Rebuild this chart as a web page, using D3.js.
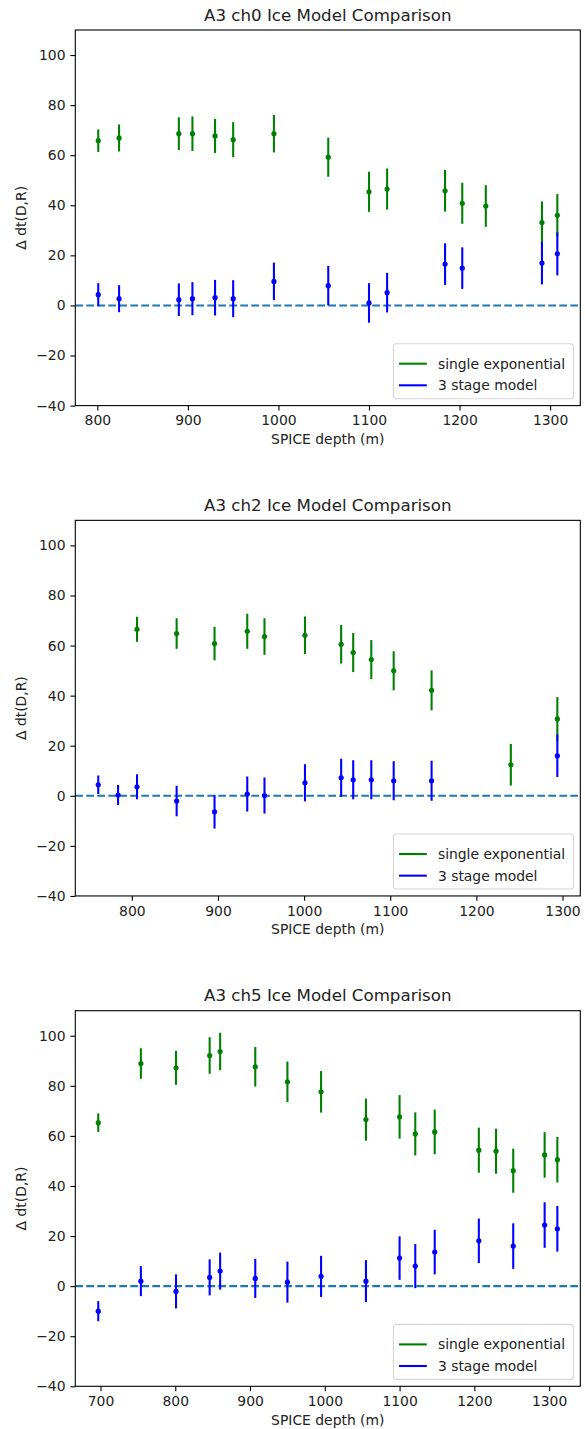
<!DOCTYPE html>
<html>
<head>
<meta charset="utf-8">
<script src="https://cdn.jsdelivr.net/npm/d3@7"></script>
<style>
  body { margin: 0; background: #fff; }
  svg { display: block; font-family: "DejaVu Sans", sans-serif; }
</style>
</head>
<body>
<div id="chart"></div>
<script>
// ---- data ----
var panelTitles = ['A3 ch0 Ice Model Comparison', 'A3 ch2 Ice Model Comparison', 'A3 ch5 Ice Model Comparison'];
var seriesNames = ['single exponential', '3 stage model'];
var yTicks = [-40, -20, 0, 20, 40, 60, 80, 100];

// ch0
var ch0ExpDepth = [801, 824, 890, 905, 930, 950, 995, 1055, 1100, 1120, 1184, 1203, 1229, 1291, 1308];
var ch0ExpVal = [65.8, 66.9, 68.6, 68.6, 67.7, 66.2, 68.6, 59.2, 45.4, 46.5, 45.8, 40.8, 39.7, 33.1, 36.0];
var ch0ExpErr = [4.5, 5.4, 6.5, 6.9, 6.8, 7.0, 7.5, 7.8, 8.0, 8.2, 8.3, 8.2, 8.3, 8.4, 8.5];
var ch0StgDepth = [801, 824, 890, 905, 930, 950, 995, 1055, 1100, 1120, 1184, 1203, 1291, 1308];
var ch0StgVal = [4.3, 2.7, 2.3, 2.7, 3.1, 2.7, 9.6, 7.9, 1.0, 5.1, 16.5, 14.9, 16.9, 20.6];
var ch0StgErr = [4.6, 5.4, 6.5, 6.6, 7.1, 7.4, 7.5, 7.9, 7.9, 7.9, 8.3, 8.3, 8.5, 8.6];

// ch2
var ch2ExpDepth = [806, 852, 896, 934, 954, 1001, 1043, 1057, 1078, 1104, 1148, 1240, 1294];
var ch2ExpVal = [66.5, 64.8, 60.8, 65.7, 63.6, 64.1, 60.5, 57.2, 54.4, 49.9, 42.1, 12.4, 30.7];
var ch2ExpErr = [5.0, 6.1, 6.7, 7.0, 7.3, 7.5, 7.7, 7.8, 7.8, 7.8, 8.0, 8.3, 8.7];
var ch2StgDepth = [761, 784, 806, 852, 896, 934, 954, 1001, 1043, 1057, 1078, 1104, 1148, 1294];
var ch2StgVal = [4.4, 0.3, 3.6, -2.1, -6.4, 0.7, 0.1, 5.2, 7.2, 6.4, 6.4, 6.0, 6.0, 16.0];
var ch2StgErr = [3.7, 4.0, 5.0, 6.1, 6.7, 7.0, 7.2, 7.4, 7.6, 7.8, 7.8, 7.8, 8.0, 8.5];

// ch5
var ch5ExpDepth = [697, 754, 801, 846, 860, 907, 950, 995, 1055, 1100, 1121, 1147, 1206, 1229, 1252, 1294, 1311];
var ch5ExpVal = [65.3, 88.9, 87.2, 92.1, 93.7, 87.6, 81.6, 77.6, 66.5, 67.6, 60.8, 61.6, 54.3, 53.9, 46.1, 52.4, 50.5];
var ch5ExpErr = [3.7, 6.1, 6.8, 7.3, 7.5, 7.9, 8.1, 8.3, 8.4, 8.7, 8.6, 8.9, 9.0, 9.0, 8.8, 9.1, 9.1];
var ch5StgDepth = [697, 754, 801, 846, 860, 907, 950, 995, 1055, 1100, 1121, 1147, 1206, 1252, 1294, 1311];
var ch5StgVal = [-10.0, 2.0, -2.1, 3.5, 6.0, 3.1, 1.6, 3.9, 2.0, 11.2, 8.0, 13.6, 18.1, 16.0, 24.4, 22.9];
var ch5StgErr = [4.0, 6.0, 6.8, 7.2, 7.4, 7.8, 8.2, 8.2, 8.4, 8.7, 8.8, 8.9, 8.9, 9.1, 9.1, 9.1];

var panels = [
  { exp: [ch0ExpDepth, ch0ExpVal, ch0ExpErr], stg: [ch0StgDepth, ch0StgVal, ch0StgErr] },
  { exp: [ch2ExpDepth, ch2ExpVal, ch2ExpErr], stg: [ch2StgDepth, ch2StgVal, ch2StgErr] },
  { exp: [ch5ExpDepth, ch5ExpVal, ch5ExpErr], stg: [ch5StgDepth, ch5StgVal, ch5StgErr] }
];

// ---- layout ----
var W = 585, H = 1429;
var left = 75.3, right = 580.3;
var firstTop = 30, step = 490.35, plotH = 375.6;
var fs = 13.9; // 10pt at 100 dpi
var colors = ['green', 'blue'];

var svg = d3.select('#chart').append('svg').attr('width', W).attr('height', H);

function zip(arr) {
  return arr[0].map(function(d, i) { return { x: d, y: arr[1][i], e: arr[2][i] }; });
}

panels.forEach(function(p, idx) {
  var top = firstTop + idx * step;
  var bottom = top + plotH;

  var allX = p.exp[0].concat(p.stg[0]);
  var xmin = d3.min(allX), xmax = d3.max(allX), pad = (xmax - xmin) * 0.05;
  var x = d3.scaleLinear().domain([xmin - pad, xmax + pad]).range([left, right]);
  var y = d3.scaleLinear().domain([-40, 110]).range([bottom, top]);

  var g = svg.append('g');

  // 0 line
  g.append('line')
    .attr('x1', left).attr('x2', right)
    .attr('y1', y(0)).attr('y2', y(0))
    .attr('stroke', '#1f77b4').attr('stroke-width', 2.08)
    .attr('stroke-dasharray', '7.7,3.3');

  // error bars
  [p.exp, p.stg].forEach(function(s, si) {
    var pts = zip(s);
    var sg = g.append('g');
    sg.selectAll('line').data(pts).enter().append('line')
      .attr('x1', function(d) { return x(d.x); })
      .attr('x2', function(d) { return x(d.x); })
      .attr('y1', function(d) { return y(d.y - d.e); })
      .attr('y2', function(d) { return y(d.y + d.e); })
      .attr('stroke', colors[si]).attr('stroke-width', 2.08);
    sg.selectAll('circle').data(pts).enter().append('circle')
      .attr('cx', function(d) { return x(d.x); })
      .attr('cy', function(d) { return y(d.y); })
      .attr('r', 2.6)
      .attr('fill', colors[si]);
  });

  // axes
  var xAxis = d3.axisBottom(x).ticks(5).tickSize(4.9).tickPadding(4.9).tickFormat(d3.format('d'));
  var yAxis = d3.axisLeft(y).tickValues(yTicks).tickSize(4.9).tickPadding(4.9)
    .tickFormat(function(d) { return d < 0 ? '\u2212' + Math.abs(d) : d; });

  var gx = g.append('g').attr('transform', 'translate(0,' + bottom + ')').call(xAxis);
  var gy = g.append('g').attr('transform', 'translate(' + left + ',0)').call(yAxis);
  [gx, gy].forEach(function(a) {
    a.select('.domain').remove();
    a.selectAll('line').attr('stroke', '#000').attr('stroke-width', 1.1);
    a.selectAll('text').attr('font-size', fs).attr('fill', '#222').attr('font-family', 'DejaVu Sans');
  });

  // frame
  g.append('rect')
    .attr('x', left).attr('y', top)
    .attr('width', right - left).attr('height', plotH)
    .attr('fill', 'none').attr('stroke', '#000').attr('stroke-width', 1.1);

  // title
  g.append('text')
    .attr('x', (left + right) / 2).attr('y', top - 9.5)
    .attr('text-anchor', 'middle').attr('font-size', 16.67).attr('fill', '#222')
    .text(panelTitles[idx]);

  // labels
  g.append('text')
    .attr('x', (left + right) / 2).attr('y', bottom + 38.5)
    .attr('text-anchor', 'middle').attr('font-size', fs).attr('fill', '#222')
    .text('SPICE depth (m)');
  g.append('text')
    .attr('transform', 'translate(25.5,' + (top + plotH / 2) + ')rotate(-90)')
    .attr('text-anchor', 'middle').attr('font-size', fs).attr('fill', '#222')
    .text('\u0394 dt(D,R)');

  // legend
  var lw = 180, lh = 55;
  var lx = right - 6.9 - lw, ly = bottom - 6.9 - lh;
  var lg = g.append('g').attr('transform', 'translate(' + lx + ',' + ly + ')');
  lg.append('rect')
    .attr('width', lw).attr('height', lh).attr('rx', 2.8)
    .attr('fill', '#fff').attr('fill-opacity', 0.8)
    .attr('stroke', '#d6d6d6').attr('stroke-width', 1.1);
  seriesNames.forEach(function(name, i) {
    var cy = 20 + i * 21.6;
    lg.append('line')
      .attr('x1', 5.6).attr('x2', 5.6 + 27.8)
      .attr('y1', cy).attr('y2', cy)
      .attr('stroke', colors[i]).attr('stroke-width', 2.08);
    lg.append('text')
      .attr('x', 5.6 + 27.8 + 11.1).attr('y', cy).attr('dy', '0.35em')
      .attr('font-size', fs).attr('fill', '#222')
      .text(name);
  });
});
</script>
</body>
</html>
